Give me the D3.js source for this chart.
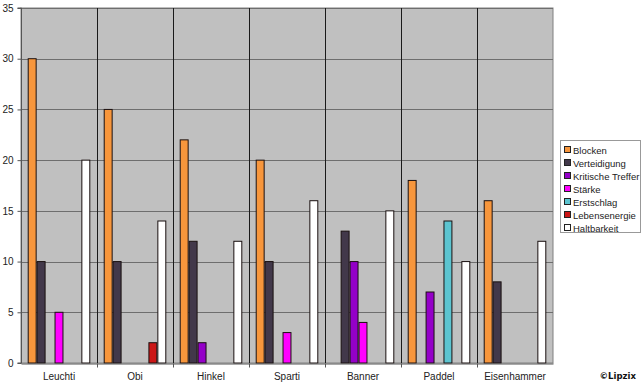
<!DOCTYPE html>
<html>
<head>
<meta charset="utf-8">
<script src="https://cdn.jsdelivr.net/npm/d3@7"></script>
<style>
  body { margin: 0; background: #fff; }
  svg { display: block; font-family: "Liberation Sans", Arial, sans-serif; }
</style>
</head>
<body>
<svg id="chart" width="642" height="386"></svg>
<script>
// categories (characters) and series (stats)
const categories = ["Leuchti", "Obi", "Hinkel", "Sparti", "Banner", "Paddel", "Eisenhammer"];
const seriesNames = ["Blocken", "Verteidigung", "Kritische Treffer", "Stärke", "Erstschlag", "Lebensenergie", "Haltbarkeit"];

const blocken       = [30, 25, 22, 20, 0, 18, 16];
const verteidigung  = [10, 10, 12, 10, 13, 0, 8];
const kritisch      = [0, 0, 2, 0, 10, 7, 0];
const staerke       = [5, 0, 0, 3, 4, 0, 0];
const erstschlag    = [0, 0, 0, 0, 0, 14, 0];
const lebensenergie = [0, 2, 0, 0, 0, 0, 0];
const haltbarkeit   = [20, 14, 12, 16, 15, 10, 12];

const yTicks = [0, 5, 10, 15, 20, 25, 30, 35];

const seriesValues = [blocken, verteidigung, kritisch, staerke, erstschlag, lebensenergie, haltbarkeit];
const colors = ["#f7963c", "#42384a", "#9400c8", "#ff00ff", "#5cc4d0", "#cc1616", "#ffffff"];

const svg = d3.select("#chart");
const plot = { left: 21, right: 553, top: 8, bottom: 363 };

const x = d3.scaleBand()
    .domain(categories)
    .range([plot.left, plot.right])
    .paddingInner(0)
    .paddingOuter(0);

// gap width 150% like the spreadsheet default
const barW = x.bandwidth() / (seriesNames.length + 1.5);
const x1 = d3.scaleBand()
    .domain(seriesNames)
    .range([barW * 0.75, x.bandwidth() - barW * 0.75]);

const y = d3.scaleLinear()
    .domain([0, 35])
    .range([plot.bottom, plot.top]);

// plot background
svg.append("rect")
    .attr("x", plot.left)
    .attr("y", plot.top)
    .attr("width", plot.right - plot.left)
    .attr("height", plot.bottom - plot.top)
    .style("fill", "#c0c0c0")
    .style("stroke", "#808080")
    .style("stroke-width", 1);

// horizontal grid
svg.append("g")
    .selectAll("line")
    .data(yTicks.filter(d => d > 0))
    .join("line")
        .attr("x1", plot.left)
        .attr("x2", plot.right)
        .attr("y1", d => Math.round(y(d)) + 0.5)
        .attr("y2", d => Math.round(y(d)) + 0.5)
        .style("stroke", "#6e6e6e")
        .style("stroke-width", 1);

// vertical category separators
svg.append("g")
    .selectAll("line")
    .data(categories.slice(1))
    .join("line")
        .attr("x1", d => Math.round(x(d)) + 0.5)
        .attr("x2", d => Math.round(x(d)) + 0.5)
        .attr("y1", plot.top)
        .attr("y2", plot.bottom)
        .style("stroke", "#1a1a1a")
        .style("stroke-width", 1);

// bars
const groups = svg.append("g")
    .selectAll("g")
    .data(categories)
    .join("g")
        .attr("transform", d => `translate(${x(d)},0)`);

groups.selectAll("rect")
    .data((c, i) => seriesNames.map((s, j) => ({ s, j, v: seriesValues[j][i] })).filter(d => d.v > 0))
    .join("rect")
        .attr("x", d => x1(d.s) + 0.5)
        .attr("y", d => y(d.v))
        .attr("width", barW - 1)
        .attr("height", d => y(0) - y(d.v))
        .style("fill", d => colors[d.j])
        .style("stroke", "#1a1010")
        .style("stroke-width", 1);

// y axis
const yAxis = svg.append("g")
    .attr("transform", `translate(${plot.left + 0.5},0)`)
    .call(d3.axisLeft(y).tickValues(yTicks).tickSize(4).tickPadding(4));
yAxis.select(".domain").style("stroke", "#555").attr("d", `M-4,${plot.top}H0V${plot.bottom}H-4`);
yAxis.selectAll(".tick line").style("stroke", "#555");
yAxis.selectAll("text").style("font-size", "10px").style("fill", "#222");

// x axis
const xAxis = svg.append("g")
    .attr("transform", `translate(0,${plot.bottom + 0.5})`)
    .call(d3.axisBottom(x).tickSize(0).tickPadding(9));
xAxis.select(".domain").style("stroke", "#555");
xAxis.selectAll("text").style("font-size", "10px").style("fill", "#222");
xAxis.append("g")
    .selectAll("line")
    .data(categories.slice(1))
    .join("line")
        .attr("x1", d => Math.round(x(d)) + 0.5)
        .attr("x2", d => Math.round(x(d)) + 0.5)
        .attr("y1", 0)
        .attr("y2", 4)
        .style("stroke", "#555");

// legend
const legend = svg.append("g").attr("transform", "translate(560,140)");
legend.append("rect")
    .attr("x", 0.5)
    .attr("y", 0.5)
    .attr("width", 80)
    .attr("height", 92)
    .style("fill", "#fff")
    .style("stroke", "#999");

const items = legend.selectAll("g.item")
    .data(seriesNames)
    .join("g")
        .attr("class", "item")
        .attr("transform", (d, i) => `translate(4,${6 + i * 13})`);

items.append("rect")
    .attr("x", 0.5)
    .attr("y", 0.5)
    .attr("width", 6)
    .attr("height", 6)
    .style("fill", (d, i) => colors[i])
    .style("stroke", "#222");

items.append("text")
    .attr("x", 9)
    .attr("y", 7.5)
    .style("font-size", "9.5px")
    .style("fill", "#222")
    .text(d => d);

// copyright
svg.append("text")
    .attr("x", 636)
    .attr("y", 379)
    .attr("text-anchor", "end")
    .style("font-family", "'DejaVu Sans Condensed', 'Liberation Sans Narrow', sans-serif")
    .style("font-weight", "bold")
    .style("font-size", "9.5px")
    .style("fill", "#111")
    .text("©Lipzix");
</script>
</body>
</html>
